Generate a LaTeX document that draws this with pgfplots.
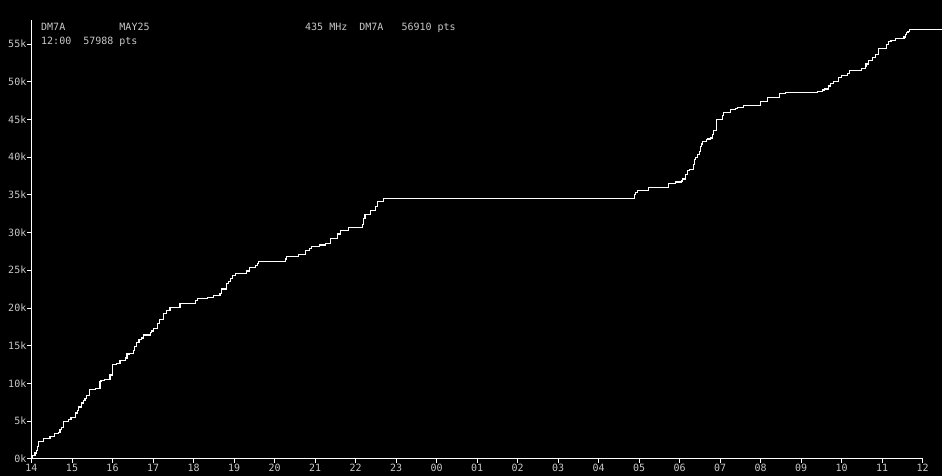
\documentclass[border=0pt]{standalone}
\usepackage{pgfplots}
\pgfplotsset{compat=1.18}
\usepackage{fontspec}
\setmonofont{DejaVu Sans Mono}
\definecolor{lbl}{RGB}{200,200,200}
\begin{document}
\begin{tikzpicture}
\fill[black] (0bp,0bp) rectangle (942bp,476bp);
\begin{axis}[
  at={(31.5bp,17.3bp)}, anchor=south west,
  scale only axis, width=891.2bp, height=438.7bp,
  xmin=0, xmax=22, ymin=0, ymax=58.2,
  axis x line=bottom, axis y line=left,
  axis line style={-, white, line width=0.8bp},
  tick style={white, line width=0.8bp},
  major tick length=4bp, tick align=outside,
  xtick={0,...,22},
  xticklabels={14,15,16,17,18,19,20,21,22,23,00,01,02,03,04,05,06,07,08,09,10,11,12},
  ytick={0,5,...,55},
  yticklabels={0k,5k,10k,15k,20k,25k,30k,35k,40k,45k,50k,55k},
  ticklabel style={font=\ttfamily\fontsize{10bp}{12bp}\selectfont, text=lbl},
  xticklabel style={inner sep=1.5bp},
  yticklabel style={inner sep=1bp},
  clip=false,
]
\addplot[const plot, white, line width=1.2bp] coordinates {
(0,0) (0.012,0.4) (0.086,0.75) (0.128,1.1) (0.153,1.6) (0.178,2.3) (0.291,2.7)
(0.457,2.9) (0.563,3.3) (0.662,3.5) (0.704,3.85) (0.746,4.15) (0.785,4.95)
(0.909,5.2) (0.975,5.5) (1.091,6.05) (1.141,6.35) (1.165,6.85) (1.240,7.4)
(1.279,7.7) (1.321,7.95) (1.363,8.35) (1.427,9.2) (1.585,9.35) (1.691,10.2)
(1.716,10.4) (1.798,10.55) (1.938,11.1) (1.995,12.45) (2.104,12.6) (2.185,13.0)
(2.316,13.35) (2.358,13.9) (2.415,14.0) (2.523,14.35) (2.548,14.9) (2.598,15.45)
(2.654,15.85) (2.711,16.0) (2.760,16.4) (2.933,16.7) (2.968,16.95) (3.007,17.3)
(3.116,17.95) (3.156,18.45) (3.254,19.3) (3.338,19.65) (3.420,20.1) (3.667,20.6)
(4.044,20.95) (4.094,21.3) (4.341,21.4) (4.489,21.7) (4.654,21.95) (4.686,22.5)
(4.820,23.2) (4.869,23.55) (4.919,23.95) (4.958,24.3) (5.032,24.6) (5.314,24.9)
(5.378,25.4) (5.526,25.65) (5.575,25.9) (5.600,26.2) (6.267,26.5) (6.301,26.85)
(6.588,27.1) (6.770,27.65) (6.859,27.85) (6.909,28.1) (6.983,28.2) (7.106,28.35)
(7.254,28.6) (7.378,29.25) (7.551,29.8) (7.625,30.3) (7.822,30.7) (8.178,31.1)
(8.193,31.9) (8.235,32.35) (8.365,32.9) (8.489,33.5) (8.538,34.15) (8.686,34.55)
(14.884,35.0) (14.909,35.35) (14.958,35.6) (15.230,36.0) (15.723,36.5)
(15.896,36.7) (16.054,36.85) (16.079,37.1) (16.136,37.7) (16.193,38.25)
(16.235,38.4) (16.351,39.05) (16.375,39.7) (16.400,39.95) (16.440,40.4)
(16.481,40.75) (16.506,41.4) (16.538,41.75) (16.563,42.1) (16.654,42.3)
(16.696,42.4) (16.760,42.55) (16.810,43.0) (16.835,43.55) (16.909,45.0)
(17.067,45.5) (17.091,45.9) (17.254,46.35) (17.388,46.5) (17.420,46.6)
(17.575,46.85) (17.995,47.4) (18.178,47.95) (18.457,48.45) (18.612,48.6)
(19.402,48.75) (19.536,48.9) (19.575,49.05) (19.674,49.45) (19.723,49.8)
(19.798,50.05) (19.921,50.6) (19.995,50.85) (20.143,51.1) (20.193,51.5)
(20.489,51.8) (20.580,52.0) (20.598,52.35) (20.662,52.85) (20.760,53.25)
(20.835,53.65) (20.909,54.45) (21.116,55.0) (21.156,55.35) (21.215,55.5)
(21.328,55.75) (21.536,55.95) (21.575,56.3) (21.600,56.55) (21.635,56.7)
(21.674,56.91) (22.481,56.91)
};
\end{axis}
\node[anchor=base west, inner sep=0, text=lbl, font=\ttfamily\fontsize{10bp}{12bp}\selectfont] at (41bp,445.5bp) {DM7A\ \ \ \ \ \ \ \ \ MAY25};
\node[anchor=base west, inner sep=0, text=lbl, font=\ttfamily\fontsize{10bp}{12bp}\selectfont] at (305bp,445.5bp) {435 MHz\ \ DM7A\ \ \ 56910 pts};
\node[anchor=base west, inner sep=0, text=lbl, font=\ttfamily\fontsize{10bp}{12bp}\selectfont] at (41bp,431bp) {12:00\ \ 57988 pts};
\pgfresetboundingbox
\useasboundingbox (0bp,0bp) rectangle (942bp,476bp);
\end{tikzpicture}
\end{document}
